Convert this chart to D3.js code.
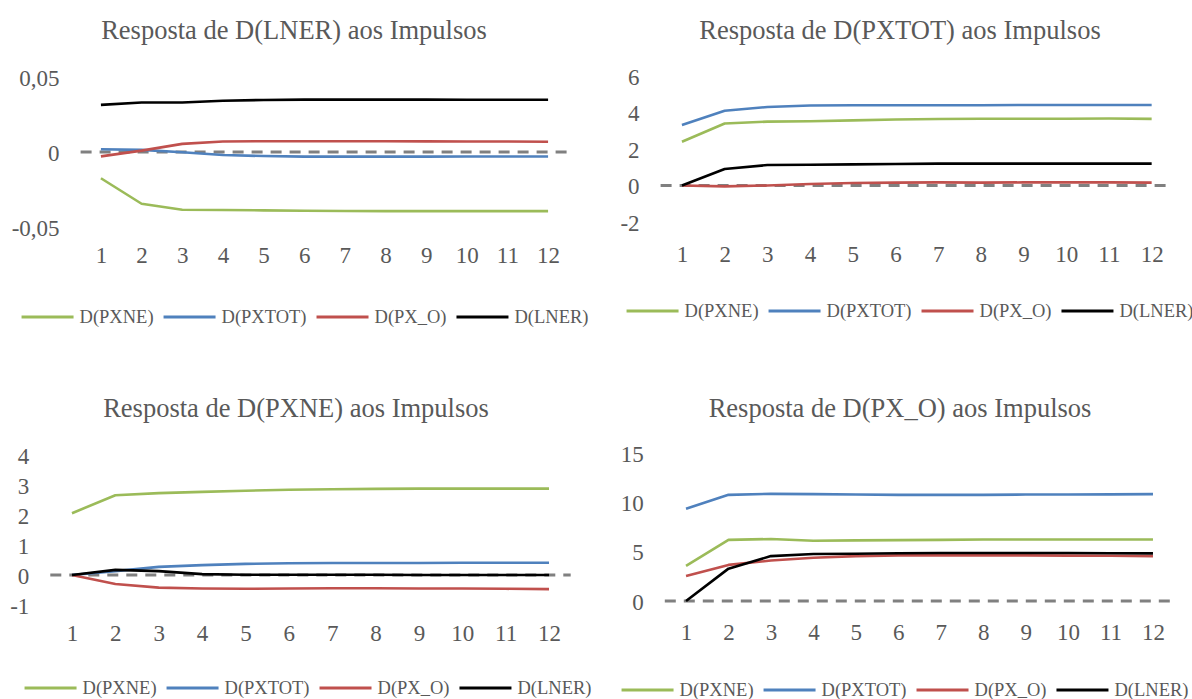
<!DOCTYPE html>
<html>
<head>
<meta charset="utf-8">
<script src="https://cdn.jsdelivr.net/npm/d3@7"></script>
<style>
  html, body { margin: 0; padding: 0; background: #fff; }
  svg { display: block; }
  text { font-family: "Liberation Serif", "DejaVu Serif", serif; fill: #595959; }
</style>
</head>
<body>
<svg id="chart" width="1192" height="699"></svg>
<script>
// Horizon (periods after the shock)
const periods = ["1", "2", "3", "4", "5", "6", "7", "8", "9", "10", "11", "12"];

// Shock sources, in drawing / legend order
const seriesNames = ["D(PXNE)", "D(PXTOT)", "D(PX_O)", "D(LNER)"];
const seriesColors = ["#9BBB59", "#4F81BD", "#C0504D", "#000000"];

// Response of D(LNER)
const lnerTitle = "Resposta de D(LNER) aos Impulsos";
const lnerTicks = [-0.05, 0, 0.05];
const lnerTickLabels = ["-0,05", "0", "0,05"];
const lnerFromPXNE  = [-0.0175, -0.0345, -0.0385, -0.0387, -0.0389, -0.0392, -0.0393, -0.0394, -0.0394, -0.0394, -0.0394, -0.0394];
const lnerFromPXTOT = [0.0018, 0.0014, -0.0002, -0.0020, -0.0027, -0.0031, -0.0031, -0.0031, -0.0031, -0.0030, -0.0030, -0.0030];
const lnerFromPXO   = [-0.0029, 0.0009, 0.0054, 0.0070, 0.0072, 0.0072, 0.0072, 0.0072, 0.0071, 0.0070, 0.0070, 0.0068];
const lnerFromLNER  = [0.0314, 0.0330, 0.0330, 0.0342, 0.0347, 0.0349, 0.0349, 0.0349, 0.0349, 0.0348, 0.0348, 0.0348];

// Response of D(PXTOT)
const pxtotTitle = "Resposta de D(PXTOT) aos Impulsos";
const pxtotTicks = [-2, 0, 2, 4, 6];
const pxtotTickLabels = ["-2", "0", "2", "4", "6"];
const pxtotFromPXNE  = [2.40, 3.40, 3.50, 3.52, 3.57, 3.62, 3.64, 3.66, 3.66, 3.66, 3.67, 3.65];
const pxtotFromPXTOT = [3.32, 4.10, 4.30, 4.38, 4.40, 4.40, 4.40, 4.40, 4.41, 4.41, 4.41, 4.41];
const pxtotFromPXO   = [0.00, -0.05, 0.00, 0.08, 0.14, 0.16, 0.17, 0.16, 0.17, 0.17, 0.17, 0.16];
const pxtotFromLNER  = [0.00, 0.90, 1.12, 1.14, 1.16, 1.18, 1.20, 1.20, 1.20, 1.20, 1.20, 1.20];

// Response of D(PXNE)
const pxneTitle = "Resposta de D(PXNE) aos Impulsos";
const pxneTicks = [-1, 0, 1, 2, 3, 4];
const pxneTickLabels = ["-1", "0", "1", "2", "3", "4"];
const pxneFromPXNE  = [2.06, 2.66, 2.73, 2.77, 2.81, 2.84, 2.86, 2.87, 2.88, 2.88, 2.88, 2.88];
const pxneFromPXTOT = [0.00, 0.13, 0.27, 0.33, 0.37, 0.39, 0.40, 0.40, 0.40, 0.41, 0.41, 0.41];
const pxneFromPXO   = [0.00, -0.30, -0.42, -0.45, -0.46, -0.45, -0.44, -0.44, -0.45, -0.45, -0.46, -0.47];
const pxneFromLNER  = [0.00, 0.17, 0.13, 0.03, 0.01, 0.01, 0.01, 0.01, 0.00, 0.00, 0.00, 0.00];

// Response of D(PX_O)
const pxoTitle = "Resposta de D(PX_O) aos Impulsos";
const pxoTicks = [0, 5, 10, 15];
const pxoTickLabels = ["0", "5", "10", "15"];
const pxoFromPXNE  = [3.55, 6.20, 6.28, 6.10, 6.14, 6.17, 6.20, 6.23, 6.24, 6.24, 6.24, 6.24];
const pxoFromPXTOT = [9.35, 10.76, 10.86, 10.83, 10.79, 10.76, 10.76, 10.76, 10.79, 10.79, 10.81, 10.83];
const pxoFromPXO   = [2.53, 3.66, 4.10, 4.38, 4.55, 4.62, 4.62, 4.62, 4.62, 4.60, 4.58, 4.55];
const pxoFromLNER  = [0.00, 3.28, 4.55, 4.76, 4.79, 4.84, 4.86, 4.86, 4.86, 4.86, 4.84, 4.83];

// Panel layout: plot frame, title and legend placement
const panels = [
  { title: lnerTitle, ticks: lnerTicks, tickLabels: lnerTickLabels,
    series: [lnerFromPXNE, lnerFromPXTOT, lnerFromPXO, lnerFromLNER],
    left: 80.6, right: 568.4, top: 77, bottom: 227, labelOffset: 28,
    titleX: 294, titleY: 30, legendX: 305, legendY: 317 },
  { title: pxtotTitle, ticks: pxtotTicks, tickLabels: pxtotTickLabels,
    series: [pxtotFromPXNE, pxtotFromPXTOT, pxtotFromPXO, pxtotFromLNER],
    left: 660.6, right: 1173, top: 76, bottom: 222, labelOffset: 32,
    titleX: 900, titleY: 30, legendX: 910, legendY: 311 },
  { title: pxneTitle, ticks: pxneTicks, tickLabels: pxneTickLabels,
    series: [pxneFromPXNE, pxneFromPXTOT, pxneFromPXO, pxneFromLNER],
    left: 50.3, right: 570.7, top: 455, bottom: 605, labelOffset: 28,
    titleX: 296, titleY: 408, legendX: 308, legendY: 688 },
  { title: pxoTitle, ticks: pxoTicks, tickLabels: pxoTickLabels,
    series: [pxoFromPXNE, pxoFromPXTOT, pxoFromPXO, pxoFromLNER],
    left: 664.8, right: 1174.2, top: 453, bottom: 601, labelOffset: 31,
    titleX: 900, titleY: 408, legendX: 905, legendY: 690 }
];

const svg = d3.select("#chart");

panels.forEach(p => {
  const g = svg.append("g");

  const x = d3.scalePoint().domain(periods).range([p.left, p.right]).padding(0.5);
  const y = d3.scaleLinear()
    .domain([d3.min(p.ticks), d3.max(p.ticks)])
    .range([p.bottom, p.top]);

  // Title
  g.append("text")
    .attr("x", p.titleX).attr("y", p.titleY).attr("dy", "0.35em")
    .attr("text-anchor", "middle")
    .style("font-size", "26.5px")
    .text(p.title);

  // Value axis labels
  const yAxis = g.append("g")
    .attr("transform", `translate(${p.left},0)`)
    .call(d3.axisLeft(y).tickValues(p.ticks)
      .tickFormat((d, i) => p.tickLabels[i]).tickSize(0).tickPadding(21));
  yAxis.select(".domain").remove();
  yAxis.selectAll("text")
    .style("font-size", "23px")
    .style("font-family", "'Liberation Serif', serif")
    .attr("fill", "#595959").attr("dy", "0.35em");

  // Period labels
  const xAxis = g.append("g")
    .attr("transform", `translate(0,${p.bottom})`)
    .call(d3.axisBottom(x).tickSize(0));
  xAxis.select(".domain").remove();
  xAxis.selectAll("text")
    .style("font-size", "23px")
    .style("font-family", "'Liberation Serif', serif")
    .attr("fill", "#595959")
    .attr("y", p.labelOffset).attr("dy", "0.35em");

  // Dashed zero line
  g.append("line")
    .attr("x1", p.left).attr("x2", p.right)
    .attr("y1", y(0)).attr("y2", y(0))
    .attr("stroke", "#808080").attr("stroke-width", 3)
    .attr("stroke-dasharray", "11,8");

  // Response lines
  const line = d3.line().x((d, i) => x(periods[i])).y(d => y(d));
  p.series.forEach((vals, k) => {
    g.append("path")
      .datum(vals)
      .attr("fill", "none")
      .attr("stroke", seriesColors[k])
      .attr("stroke-width", 2.6)
      .attr("stroke-linejoin", "round")
      .attr("d", line);
  });

  // Legend
  const lg = g.append("g");
  const lineLen = 52, gapIn = 6, gapOut = 10;
  let cx = 0;
  seriesNames.forEach((name, k) => {
    lg.append("line")
      .attr("x1", cx).attr("x2", cx + lineLen)
      .attr("y1", 0).attr("y2", 0)
      .attr("stroke", seriesColors[k]).attr("stroke-width", 3);
    const t = lg.append("text")
      .attr("x", cx + lineLen + gapIn).attr("y", 0).attr("dy", "0.35em")
      .style("font-size", "18.5px")
      .text(name);
    cx += lineLen + gapIn + t.node().getComputedTextLength() + gapOut;
  });
  const total = cx - gapOut;
  lg.attr("transform", `translate(${p.legendX - total / 2},${p.legendY})`);
});
</script>
</body>
</html>
